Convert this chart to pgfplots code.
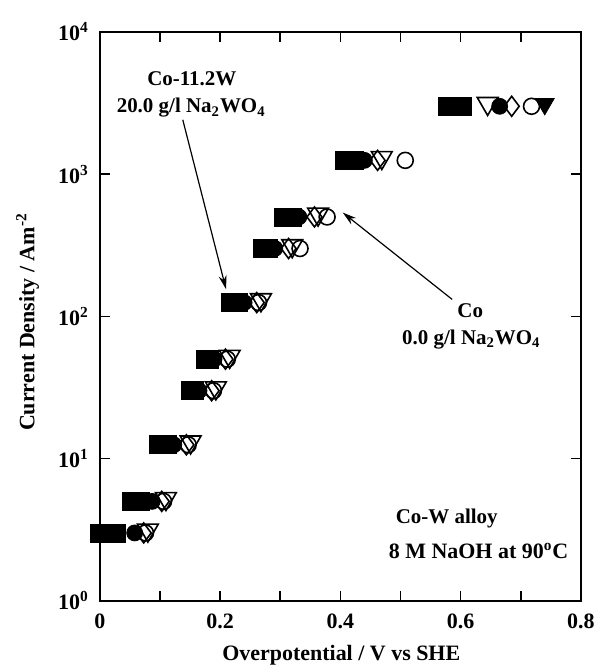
\documentclass[border=0pt]{standalone}
\usepackage{pgfplots}
\pgfplotsset{compat=1.18}
\usepackage{fontspec}
\setmainfont{Liberation Serif}
\usetikzlibrary{arrows.meta,calc}

\begin{document}
\begin{tikzpicture}
\begin{axis}[
  scale only axis,
  width=241pt, height=285pt,
  xmin=0, xmax=0.8,
  ymode=log, ymin=1, ymax=10000,
  xtick={0,0.2,0.4,0.6,0.8},
  xticklabels={0,0.2,0.4,0.6,0.8},
  minor xtick={0.1,0.3,0.5,0.7},
  ytick={1,10,100,1000,10000},
  yticklabels={10\textsuperscript{0},10\textsuperscript{1},10\textsuperscript{2},10\textsuperscript{3},10\textsuperscript{4}},
  yminorticks=false,
  tick align=inside,
  major tick length=5pt, minor tick length=5pt,
  axis line style={line width=1pt},
  tick style={line width=0.8pt, black},
  tick label style={font=\fontsize{11}{13}\selectfont\bfseries},
  xticklabel style={yshift=-3pt},
  yticklabel style={xshift=-2pt},
  xlabel={Overpotential / V vs SHE},
  ylabel={Current Density / Am\textsuperscript{-2}},
  label style={font=\fontsize{11}{13}\selectfont\bfseries},
  xlabel style={at={(axis description cs:0.502,-0.096)}, anchor=center},
  ylabel style={at={(axis description cs:-0.15,0.49)}, anchor=center},
  clip=false,
  every axis plot/.append style={only marks, black},
]

% Co-11.2W, 20.0 g/l
\addplot[mark=square*, mark size=4.5pt] coordinates {
  (0.000,3)(0.052,5)(0.097,12.5)(0.151,30)(0.176,50)(0.218,125)(0.270,300)(0.306,500)(0.406,1250)(0.578,3000)
};
\addplot[mark=square*, mark size=4.5pt] coordinates {
  (0.028,3)(0.068,5)(0.113,12.5)(0.158,30)(0.183,50)(0.230,125)(0.280,300)(0.320,500)(0.424,1250)(0.603,3000)
};
\addplot[mark=triangle*, mark size=5.5pt, mark options={rotate=180, yshift=-1.2pt}] coordinates {
  (0.013,3)(0.060,5)(0.105,12.5)(0.155,30)(0.180,50)(0.223,125)(0.275,300)(0.313,500)(0.416,1250)(0.740,3000)
};
\addplot[mark=*, mark size=4pt] coordinates {
  (0.058,3)(0.087,5)(0.123,12.5)(0.165,30)(0.190,50)(0.240,125)(0.291,300)(0.331,500)(0.440,1250)(0.665,3000)
};
% Co, 0.0 g/l
\addplot[mark=o, mark size=4pt, mark options={line width=0.8pt}] coordinates {
  (0.076,3)(0.106,5)(0.147,12.5)(0.189,30)(0.212,50)(0.264,125)(0.333,300)(0.378,500)(0.508,1250)(0.718,3000)
};
\addplot[mark=diamond, mark size=5pt, mark options={line width=0.8pt}] coordinates {
  (0.073,3)(0.103,5)(0.144,12.5)(0.186,30)(0.209,50)(0.261,125)(0.314,300)(0.357,500)(0.462,1250)(0.685,3000)
};
\addplot[mark=triangle, mark size=6pt, mark options={rotate=180, yshift=-1.4pt, line width=0.8pt}] coordinates {
  (0.080,3)(0.110,5)(0.151,12.5)(0.193,30)(0.216,50)(0.268,125)(0.320,300)(0.363,500)(0.469,1250)(0.645,3000)
};

\begin{scope}[font=\fontsize{10.5}{12}\selectfont\bfseries]
\node[anchor=base] at (axis cs:0.153,4178) {Co-11.2W};
\node[anchor=base] at (axis cs:0.152,2700) {20.0 g/l Na\textsubscript{2}WO\textsubscript{4}};
\node[anchor=base] at (axis cs:0.616,98.4) {Co};
\node[anchor=base] at (axis cs:0.618,63.6) {0.0 g/l Na\textsubscript{2}WO\textsubscript{4}};
\node[anchor=base] at (axis cs:0.577,3.47) {Co-W alloy};
\node[anchor=base, font=\fontsize{11}{13}\selectfont\bfseries] at (axis cs:0.630,1.97) {8 M NaOH at 90\textsuperscript{o}C};
\end{scope}
\draw[line width=0.6pt, -{Stealth[length=7pt,width=4pt]}] (axis cs:0.138,2411) -- (axis cs:0.210,155);
\draw[line width=0.6pt, -{Stealth[length=7pt,width=4pt]}] (axis cs:0.586,131.6) -- (axis cs:0.404,537);
\end{axis}
\path ($(current axis.south west)+(-50pt,-35pt)$) rectangle ($(current axis.north east)+(9pt,16pt)$);
\end{tikzpicture}
\end{document}
